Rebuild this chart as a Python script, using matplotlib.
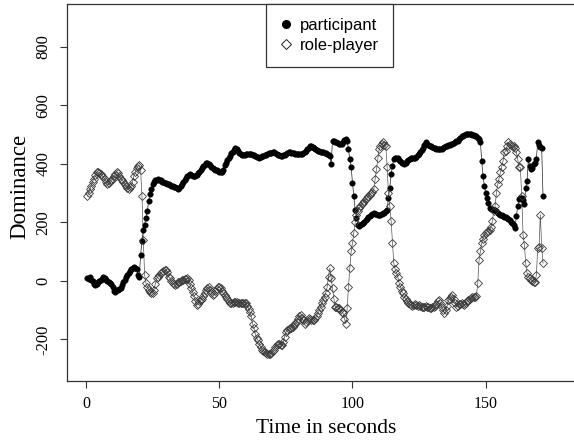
import numpy as np
import matplotlib
matplotlib.use("Agg")
import matplotlib.pyplot as plt
from matplotlib.lines import Line2D

# sampling: every 0.5 s from 0.5 s to 171.5 s
time_step = 0.5
n_samples = 343
time = np.arange(1, n_samples + 1) * time_step

participant = [
    10, 8, 12, 5, 0, -10, -15, -12, -5, 0,
    5, 8, 12, 10, 3, 0, -5, -8, -10, -20,
    -35, -38, -32, -30, -28, -25, -15, -5, 5, 15,
    20, 28, 35, 40, 45, 48, 45, 40, 20, 15,
    90, 135, 175, 193, 217, 238, 273, 296, 313, 330,
    340, 344, 346, 348, 346, 344, 340, 338, 336, 334,
    332, 330, 328, 326, 324, 322, 320, 318, 316, 318,
    325, 330, 338, 345, 352, 358, 362, 365, 363, 360,
    358, 359, 362, 368, 374, 380, 386, 392, 398, 402,
    405, 400, 395, 390, 385, 382, 380, 378, 376, 374,
    372, 371, 380, 395, 405, 412, 420, 428, 436, 442,
    448, 455, 452, 445, 438, 434, 432, 431, 432, 433,
    434, 434, 434, 433, 432, 430, 428, 425, 423, 422,
    424, 426, 428, 430, 432, 434, 436, 437, 438, 440,
    440, 438, 435, 432, 430, 428, 428, 430, 432, 435,
    438, 440, 440, 439, 438, 436, 435, 434, 434, 434,
    434, 434, 436, 440, 445, 450, 455, 460, 462, 458,
    455, 451, 448, 446, 444, 442, 441, 440, 438, 436,
    434, 432, 428, 400, 480, 478, 476, 474, 472, 470,
    468, 470, 476, 482, 485, 480, 451, 417, 388, 336,
    290, 244, 216, 193, 187, 190, 195, 199, 203, 208,
    213, 218, 221, 225, 230, 233, 230, 228, 227, 226,
    227, 229, 231, 233, 238, 244, 285, 319, 365, 393,
    417, 420, 422, 420, 415, 410, 405, 402, 400, 405,
    411, 414, 417, 419, 420, 421, 422, 425, 430, 435,
    440, 448, 456, 464, 474, 470, 466, 462, 460, 458,
    456, 454, 452, 451, 450, 451, 452, 455, 458, 461,
    462, 464, 466, 468, 470, 472, 474, 477, 480, 485,
    490, 494, 497, 500, 502, 503, 503, 502, 501, 500,
    498, 497, 494, 490, 485, 474, 411, 359, 325, 300,
    285, 265, 250, 247, 245, 244, 242, 238, 234, 230,
    227, 225, 222, 220, 218, 216, 212, 208, 203, 199,
    190, 181, 221, 256, 279, 285, 283, 278, 262, 319,
    342, 417, 393, 382, 385, 399, 405, 417, 474, 465,
    457, 453, 290,
]

role_player = [
    290, 300, 313, 325, 340, 350, 362, 371, 373, 370,
    365, 360, 355, 348, 340, 330, 335, 342, 345, 350,
    358, 365, 371, 368, 360, 350, 345, 340, 330, 325,
    319, 316, 320, 325, 340, 360, 371, 385, 393, 396,
    380, 290, 141, 21, -8, -20, -31, -38, -42, -40,
    -30, -10, 9, 15, 20, 27, 30, 33, 36, 38,
    30, 15, 9, 0, -8, -10, -14, -10, -5, -2,
    0, 3, 5, 7, 8, 9, 5, -10, -25, -38,
    -50, -70, -83, -78, -70, -65, -60, -50, -40, -30,
    -25, -20, -30, -40, -48, -45, -35, -28, -22, -20,
    -25, -35, -42, -48, -55, -62, -70, -75, -77, -75,
    -72, -71, -73, -75, -77, -77, -76, -75, -75, -77,
    -85, -95, -106, -120, -146, -160, -180, -195, -203, -215,
    -225, -235, -238, -243, -246, -248, -249, -249, -247, -240,
    -235, -226, -220, -215, -215, -218, -220, -210, -190, -175,
    -169, -165, -162, -160, -157, -150, -145, -140, -130, -120,
    -117, -125, -135, -146, -140, -132, -128, -130, -132, -134,
    -134, -128, -120, -111, -100, -90, -77, -65, -54, -40,
    -20, 15, 44, 10, -25, -60, -88, -90, -92, -94,
    -100, -105, -111, -130, -146, -94, -20, 44, 101, 130,
    164, 200, 227, 239, 250, 256, 262, 268, 275, 279,
    285, 290, 295, 300, 305, 313, 348, 382, 420, 451,
    462, 470, 474, 466, 462, 388, 300, 256, 204, 130,
    61, 40, 27, 15, -8, -20, -35, -42, -55, -60,
    -68, -77, -80, -82, -85, -83, -80, -82, -85, -83,
    -85, -88, -90, -88, -86, -88, -90, -92, -94, -90,
    -88, -85, -80, -70, -65, -75, -90, -100, -111, -100,
    -85, -65, -60, -55, -48, -60, -75, -88, -85, -80,
    -78, -77, -80, -82, -77, -70, -65, -60, -58, -56,
    -55, -54, -50, -8, 72, 101, 130, 145, 158, 165,
    168, 170, 175, 185, 204, 239, 256, 300, 330, 350,
    371, 390, 410, 440, 445, 460, 474, 470, 465, 462,
    462, 455, 440, 417, 388, 388, 290, 158, 124, 61,
    27, 15, 9, 5, 0, -2, -5, 21, 113, 115,
    227, 113, 61,
]

x_ticks = [0, 50, 100, 150]
y_ticks = [-200, 0, 200, 400, 600, 800]
series_labels = ["participant", "role-player"]
x_label = "Time in seconds"
y_label = "Dominance"

serif = "Liberation Serif"
sans = "Liberation Sans"

fig = plt.figure(figsize=(5.74, 4.42), dpi=100)
ax = fig.add_axes([67 / 574, 61 / 442, 512 / 574, 377 / 442])

ax.plot(time, participant, "-", color="#222222", lw=0.5, zorder=2)
ax.plot(time, role_player, "-", color="#555555", lw=0.5, zorder=2)
ax.plot(time, participant, "o", ls="none", ms=4.0, mfc="black", mec="black",
        mew=0.3, zorder=3)
ax.plot(time, role_player, "D", ls="none", ms=3.7, mfc="none", mec="#3a3a3a",
        mew=0.6, zorder=4)

ax.set_xlim(-7.13, 185.0)
ax.set_ylim(-342, 947)
ax.set_xticks(x_ticks)
ax.set_yticks(y_ticks)
ax.set_xticklabels([str(v) for v in x_ticks], fontfamily=serif, fontsize=11.5)
ax.set_yticklabels([str(v) for v in y_ticks], fontfamily=serif, fontsize=12,
                   rotation=90, va="center")
ax.tick_params(axis="both", direction="out", length=5, width=0.8,
               color="#333333")
ax.tick_params(axis="x", pad=6)
ax.tick_params(axis="y", pad=6)

for side in ["left", "bottom", "top"]:
    ax.spines[side].set_color("#333333")
    ax.spines[side].set_linewidth(0.9)
ax.spines["right"].set_visible(False)

ax.set_xlabel(x_label, fontfamily=serif, fontsize=15.5)
ax.set_ylabel(y_label, fontfamily=serif, fontsize=16.5)
ax.xaxis.set_label_coords((326 - 67) / 512, -0.102)
ax.yaxis.set_label_coords((30 - 67) / 512, (381 - 186) / 377)

handles = [
    Line2D([], [], ls="none", marker="o", ms=5.5, mfc="black", mec="black"),
    Line2D([], [], ls="none", marker="D", ms=5.0, mfc="none", mec="#222222",
           mew=0.7),
]
leg = ax.legend(handles, series_labels, loc="upper left",
                bbox_to_anchor=((266 - 67) / 512, 1.0), borderaxespad=0,
                prop={"family": sans, "size": 12}, frameon=True,
                fancybox=False, edgecolor="#333333", framealpha=1,
                borderpad=0.85, labelspacing=0.3, handlelength=0.7,
                handletextpad=0.5)
leg.get_frame().set_linewidth(0.9)

fig.savefig("out.png", dpi=100)
